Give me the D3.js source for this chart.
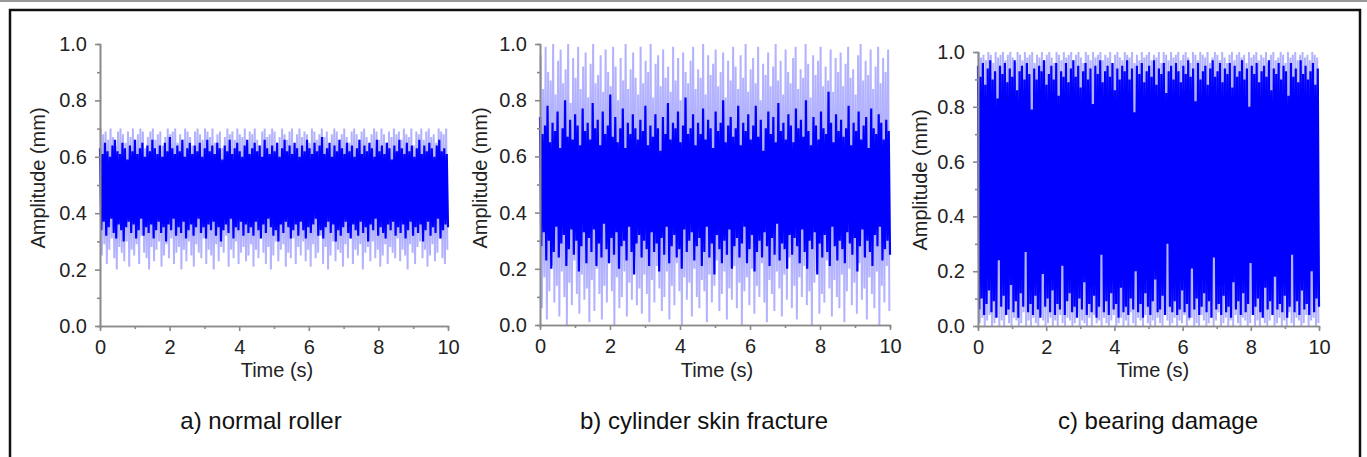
<!DOCTYPE html>
<meta charset="utf-8">
<style>
body { margin: 0; background: #fff; font-family: Arial, "Liberation Sans", sans-serif; }
.axis path,
.axis line { stroke: #8a8a8a; stroke-width: 1.6; fill: none; }
.axis text { font-size: 20px; fill: #222; font-family: Arial, "Liberation Sans", sans-serif; }
.title { font-size: 20px; fill: #222; }
.caption { font-size: 24px; fill: #111; }
</style>
<script src="https://d3js.org/d3.v7.min.js"></script>
<body>
<div id="chart"></div>
<script>
// tick values
var xTicks = [0, 2, 4, 6, 8, 10],
    xMinor = [1, 3, 5, 7, 9],
    yTicks = [0, 0.2, 0.4, 0.6, 0.8, 1.0],
    yMinor = [0.1, 0.3, 0.5, 0.7, 0.9];

var captions = ["a) normal roller", "b) cylinder skin fracture", "c) bearing damage"];

// amplitude samples (mm), evenly spread over 0-10 s
// *PeakHi / *PeakLo : outer spikes (light), *CoreHi / *CoreLo : edges of the dense band

// a) normal roller
var aPeakHi = [0.70,0.68,0.69,0.66,0.70,0.67,0.64,0.69,0.70,0.68,0.65,0.69,0.67,0.70,0.66,0.68,0.70,0.69,0.63,0.67,
  0.69,0.70,0.66,0.68,0.69,0.64,0.67,0.70,0.68,0.69,0.70,0.65,0.68,0.66,0.70,0.69,0.67,0.64,0.69,0.70,
  0.68,0.66,0.70,0.69,0.67,0.70,0.65,0.68,0.69,0.63,0.67,0.70,0.68,0.69,0.66,0.70,0.68,0.67,0.70,0.65,
  0.69,0.68,0.70,0.66,0.64,0.69,0.70,0.67,0.68,0.70,0.69,0.65,0.67,0.70,0.68,0.66,0.69,0.70,0.64,0.68,
  0.70,0.67,0.69,0.68,0.65,0.70,0.69,0.66,0.68,0.70,0.67,0.69,0.63,0.68,0.70,0.69,0.66,0.68,0.70,0.67,
  0.65,0.69,0.70,0.68,0.66,0.69,0.70,0.67,0.64,0.68,0.70,0.69,0.66,0.70,0.68,0.65,0.69,0.67,0.70,0.68,
  0.69,0.66,0.70,0.68,0.67,0.70,0.64,0.69,0.68,0.70,0.66,0.69,0.70,0.67,0.68,0.65,0.70,0.69,0.68,0.70];
var aPeakLo = [0.25,0.29,0.22,0.27,0.31,0.24,0.20,0.28,0.26,0.23,0.30,0.21,0.27,0.25,0.29,0.22,0.32,0.26,0.24,0.20,
  0.28,0.23,0.27,0.30,0.21,0.25,0.29,0.24,0.31,0.22,0.26,0.28,0.20,0.27,0.23,0.30,0.25,0.21,0.29,0.26,
  0.24,0.31,0.22,0.27,0.25,0.20,0.29,0.23,0.28,0.26,0.32,0.21,0.27,0.24,0.30,0.22,0.26,0.28,0.23,0.25,
  0.29,0.21,0.27,0.24,0.31,0.26,0.22,0.28,0.20,0.25,0.30,0.23,0.27,0.29,0.21,0.26,0.24,0.31,0.22,0.28,
  0.25,0.30,0.23,0.27,0.21,0.29,0.24,0.26,0.32,0.22,0.28,0.20,0.25,0.30,0.23,0.27,0.26,0.21,0.29,0.24,
  0.31,0.22,0.27,0.25,0.29,0.20,0.26,0.28,0.23,0.30,0.24,0.27,0.21,0.25,0.29,0.22,0.28,0.26,0.24,0.31,
  0.23,0.27,0.25,0.20,0.29,0.26,0.22,0.28,0.30,0.24,0.27,0.21,0.25,0.29,0.23,0.26,0.31,0.24,0.22,0.27];
var aCoreHi = [0.63,0.61,0.65,0.62,0.60,0.64,0.66,0.62,0.61,0.65,0.63,0.59,0.64,0.62,0.66,0.61,0.63,0.65,0.60,0.64,
  0.62,0.66,0.63,0.61,0.64,0.60,0.65,0.62,0.67,0.63,0.61,0.64,0.62,0.66,0.60,0.63,0.65,0.61,0.64,0.62,
  0.65,0.60,0.63,0.66,0.62,0.64,0.61,0.65,0.63,0.59,0.64,0.62,0.66,0.61,0.63,0.65,0.62,0.60,0.64,0.66,
  0.61,0.63,0.65,0.62,0.64,0.60,0.66,0.63,0.61,0.64,0.62,0.65,0.60,0.63,0.66,0.62,0.64,0.61,0.65,0.63,
  0.60,0.64,0.62,0.66,0.63,0.61,0.65,0.62,0.64,0.67,0.61,0.63,0.65,0.60,0.64,0.62,0.66,0.63,0.61,0.65,
  0.62,0.64,0.60,0.63,0.66,0.61,0.64,0.62,0.65,0.63,0.60,0.66,0.62,0.64,0.61,0.65,0.63,0.59,0.64,0.62,
  0.66,0.63,0.61,0.65,0.62,0.64,0.60,0.63,0.66,0.61,0.64,0.62,0.65,0.63,0.60,0.64,0.66,0.62,0.63,0.61];
var aCoreLo = [0.34,0.37,0.32,0.35,0.38,0.33,0.31,0.36,0.34,0.30,0.35,0.37,0.33,0.36,0.31,0.34,0.38,0.32,0.35,0.33,
  0.36,0.31,0.34,0.37,0.33,0.35,0.30,0.36,0.34,0.38,0.32,0.35,0.33,0.37,0.31,0.34,0.36,0.32,0.35,0.38,
  0.33,0.35,0.31,0.36,0.34,0.37,0.32,0.35,0.30,0.34,0.36,0.33,0.38,0.31,0.35,0.34,0.37,0.32,0.36,0.33,
  0.35,0.32,0.37,0.34,0.31,0.36,0.33,0.38,0.35,0.32,0.34,0.30,0.36,0.33,0.37,0.35,0.31,0.34,0.36,0.32,
  0.37,0.34,0.31,0.35,0.33,0.36,0.38,0.32,0.34,0.31,0.35,0.37,0.33,0.36,0.30,0.34,0.32,0.35,0.37,0.33,
  0.31,0.36,0.34,0.32,0.37,0.33,0.35,0.30,0.36,0.34,0.38,0.32,0.35,0.33,0.31,0.36,0.34,0.37,0.32,0.35,
  0.33,0.36,0.31,0.34,0.37,0.32,0.35,0.33,0.36,0.30,0.34,0.37,0.32,0.35,0.33,0.38,0.31,0.34,0.36,0.35];

// b) cylinder skin fracture
var bPeakHi = [0.96,0.84,0.99,0.90,0.87,1.00,0.82,0.94,0.98,0.86,0.91,1.00,0.79,0.95,0.88,0.99,0.84,0.92,0.97,0.81,
  0.93,1.00,0.86,0.89,0.96,0.83,0.98,0.90,0.85,0.99,0.92,0.80,0.95,0.87,1.00,0.84,0.91,0.97,0.88,0.82,
  0.99,0.86,0.94,0.90,1.00,0.81,0.93,0.96,0.85,0.98,0.88,0.92,0.83,0.99,0.87,0.95,0.80,0.97,0.90,0.86,
  0.94,0.99,0.84,0.91,0.88,1.00,0.82,0.96,0.89,0.93,0.98,0.85,0.90,0.97,0.81,0.94,0.87,0.99,0.92,0.84,
  0.96,0.88,1.00,0.83,0.91,0.95,0.86,0.99,0.80,0.93,0.89,0.97,0.85,0.92,1.00,0.87,0.94,0.82,0.98,0.90,
  0.86,0.95,0.99,0.84,0.91,0.88,1.00,0.93,0.81,0.96,0.89,0.94,0.99,0.85,0.92,0.87,0.98,0.83,0.95,0.90,
  0.97,0.85,0.93,0.99,0.88,0.91,0.82,0.96,1.00,0.87,0.94,0.89,0.98,0.84,0.92,0.99,0.86,0.95,0.90,0.98];
var bPeakLo = [0.06,0.17,0.02,0.12,0.21,0.08,0.14,0.03,0.19,0.10,0.00,0.15,0.07,0.23,0.11,0.04,0.18,0.09,0.13,0.01,
  0.16,0.05,0.20,0.11,0.02,0.14,0.08,0.22,0.12,0.00,0.17,0.06,0.10,0.19,0.03,0.15,0.09,0.24,0.07,0.13,
  0.04,0.18,0.11,0.01,0.16,0.08,0.21,0.13,0.05,0.10,0.19,0.02,0.14,0.07,0.22,0.12,0.00,0.17,0.09,0.15,
  0.03,0.20,0.10,0.06,0.16,0.12,0.01,0.18,0.08,0.14,0.23,0.05,0.11,0.19,0.02,0.13,0.09,0.21,0.06,0.15,
  0.00,0.12,0.17,0.07,0.20,0.04,0.14,0.10,0.22,0.08,0.01,0.16,0.11,0.05,0.19,0.13,0.03,0.18,0.09,0.24,
  0.06,0.14,0.02,0.17,0.10,0.21,0.07,0.12,0.00,0.15,0.19,0.04,0.11,0.08,0.23,0.13,0.03,0.16,0.10,0.06,
  0.18,0.01,0.12,0.20,0.07,0.15,0.04,0.22,0.09,0.13,0.02,0.17,0.11,0.06,0.19,0.00,0.14,0.08,0.21,0.05];
var bCoreHi = [0.74,0.68,0.71,0.78,0.65,0.72,0.69,0.76,0.63,0.70,0.80,0.67,0.73,0.66,0.75,0.71,0.64,0.77,0.69,0.72,
  0.66,0.79,0.70,0.73,0.64,0.76,0.68,0.71,0.82,0.67,0.74,0.65,0.70,0.77,0.63,0.72,0.68,0.75,0.70,0.66,
  0.73,0.69,0.78,0.64,0.71,0.67,0.75,0.70,0.62,0.74,0.68,0.79,0.66,0.72,0.70,0.76,0.65,0.71,0.81,0.68,
  0.70,0.75,0.64,0.72,0.68,0.77,0.66,0.73,0.70,0.63,0.76,0.69,0.72,0.80,0.65,0.71,0.74,0.67,0.70,0.78,
  0.64,0.72,0.69,0.75,0.66,0.71,0.78,0.67,0.73,0.62,0.70,0.76,0.68,0.74,0.65,0.79,0.69,0.72,0.66,0.75,
  0.71,0.65,0.77,0.70,0.73,0.67,0.80,0.69,0.64,0.74,0.71,0.66,0.76,0.70,0.68,0.83,0.72,0.65,0.75,0.69,
  0.73,0.67,0.70,0.78,0.64,0.72,0.69,0.76,0.66,0.71,0.74,0.63,0.77,0.70,0.68,0.75,0.72,0.66,0.73,0.69];
var bCoreLo = [0.28,0.33,0.23,0.30,0.20,0.26,0.35,0.24,0.29,0.32,0.21,0.27,0.34,0.25,0.30,0.19,0.28,0.33,0.22,0.31,
  0.26,0.34,0.21,0.29,0.24,0.36,0.27,0.22,0.31,0.25,0.33,0.20,0.28,0.30,0.23,0.35,0.26,0.18,0.29,0.32,
  0.24,0.30,0.27,0.21,0.33,0.26,0.29,0.19,0.31,0.25,0.35,0.22,0.28,0.32,0.24,0.27,0.20,0.34,0.26,0.30,
  0.33,0.23,0.28,0.31,0.21,0.26,0.35,0.24,0.29,0.18,0.32,0.27,0.22,0.30,0.25,0.34,0.20,0.28,0.31,0.24,
  0.29,0.35,0.22,0.27,0.32,0.19,0.26,0.30,0.24,0.33,0.28,0.21,0.31,0.25,0.36,0.23,0.29,0.27,0.20,0.32,
  0.25,0.31,0.28,0.22,0.34,0.26,0.20,0.30,0.27,0.33,0.18,0.29,0.24,0.32,0.26,0.21,0.35,0.28,0.23,0.30,
  0.27,0.22,0.33,0.29,0.25,0.31,0.19,0.28,0.34,0.24,0.30,0.26,0.21,0.32,0.28,0.35,0.23,0.27,0.30,0.25];

// c) bearing damage
var cPeakHi = [1.00,0.98,0.99,0.97,1.00,0.99,0.96,1.00,0.98,0.99,1.00,0.97,0.99,1.00,0.98,0.96,1.00,0.99,0.97,1.00,
  0.98,0.99,1.00,0.96,0.99,0.98,1.00,0.97,0.99,1.00,0.98,0.96,1.00,0.99,0.97,1.00,0.98,0.99,1.00,0.97,
  0.99,1.00,0.98,0.96,1.00,0.99,0.97,1.00,0.98,0.99,1.00,0.97,0.99,0.98,1.00,0.96,0.99,1.00,0.98,0.97,
  1.00,0.99,0.98,1.00,0.96,0.99,0.97,1.00,0.98,0.99,1.00,0.97,0.99,0.98,1.00,0.96,1.00,0.99,0.97,1.00,
  0.98,0.99,1.00,0.97,0.99,1.00,0.98,0.96,1.00,0.99,0.97,1.00,0.99,0.98,1.00,0.96,0.98,1.00,0.99,0.97,
  1.00,0.98,0.96,0.99,1.00,0.97,0.99,1.00,0.98,0.99,0.96,1.00,0.98,0.99,1.00,0.97,0.99,0.98,1.00,0.96,
  0.99,1.00,0.97,0.98,1.00,0.99,0.96,1.00,0.98,0.99,1.00,0.97,0.99,1.00,0.98,0.99,0.97,1.00,0.99,0.98];
var cPeakLo = [0.01,0.03,0.00,0.02,0.04,0.00,0.01,0.03,0.00,0.02,0.00,0.04,0.01,0.00,0.03,0.02,0.00,0.01,0.05,0.00,
  0.02,0.00,0.03,0.01,0.00,0.04,0.02,0.00,0.01,0.03,0.00,0.02,0.00,0.04,0.01,0.00,0.03,0.02,0.00,0.01,
  0.05,0.00,0.02,0.01,0.00,0.03,0.00,0.04,0.01,0.02,0.00,0.03,0.01,0.00,0.02,0.04,0.00,0.01,0.03,0.00,
  0.02,0.00,0.05,0.01,0.00,0.03,0.02,0.00,0.04,0.01,0.00,0.02,0.00,0.03,0.01,0.00,0.04,0.02,0.00,0.01,
  0.03,0.00,0.02,0.01,0.04,0.00,0.02,0.03,0.00,0.01,0.00,0.04,0.02,0.00,0.01,0.03,0.00,0.02,0.05,0.00,
  0.01,0.03,0.00,0.02,0.00,0.04,0.01,0.00,0.03,0.02,0.00,0.01,0.04,0.00,0.02,0.00,0.03,0.01,0.00,0.02,
  0.04,0.00,0.01,0.03,0.00,0.02,0.00,0.05,0.01,0.00,0.03,0.02,0.00,0.01,0.04,0.00,0.02,0.03,0.00,0.01];
var cCoreHi = [0.95,0.91,0.96,0.88,0.94,0.97,0.90,0.93,0.83,0.95,0.92,0.96,0.89,0.94,0.91,0.97,0.86,0.93,0.95,0.90,
  0.96,0.92,0.79,0.94,0.90,0.95,0.93,0.97,0.88,0.92,0.95,0.90,0.96,0.84,0.93,0.91,0.96,0.89,0.94,0.97,
  0.91,0.95,0.87,0.93,0.96,0.90,0.94,0.81,0.95,0.92,0.97,0.89,0.93,0.95,0.91,0.96,0.86,0.94,0.90,0.95,
  0.93,0.97,0.90,0.94,0.78,0.95,0.92,0.96,0.89,0.93,0.95,0.91,0.97,0.88,0.94,0.92,0.96,0.85,0.93,0.95,
  0.90,0.96,0.93,0.89,0.95,0.92,0.97,0.91,0.94,0.82,0.96,0.90,0.93,0.95,0.88,0.94,0.97,0.91,0.93,0.96,
  0.89,0.94,0.92,0.96,0.87,0.95,0.91,0.93,0.97,0.90,0.94,0.80,0.95,0.92,0.96,0.89,0.93,0.95,0.91,0.97,
  0.86,0.94,0.92,0.96,0.90,0.95,0.93,0.84,0.96,0.91,0.94,0.89,0.97,0.92,0.95,0.90,0.93,0.96,0.88,0.94];
var cCoreLo = [0.06,0.10,0.04,0.08,0.13,0.05,0.09,0.03,0.24,0.07,0.11,0.04,0.06,0.15,0.05,0.09,0.03,0.12,0.07,0.27,
  0.05,0.08,0.04,0.11,0.06,0.03,0.19,0.07,0.10,0.05,0.13,0.04,0.08,0.06,0.22,0.04,0.09,0.12,0.05,0.07,
  0.03,0.10,0.06,0.16,0.04,0.08,0.05,0.11,0.03,0.07,0.26,0.05,0.09,0.04,0.12,0.06,0.08,0.03,0.14,0.05,
  0.07,0.04,0.10,0.06,0.20,0.05,0.08,0.03,0.12,0.07,0.04,0.09,0.17,0.05,0.06,0.11,0.04,0.30,0.07,0.05,
  0.09,0.04,0.06,0.13,0.05,0.08,0.03,0.21,0.06,0.10,0.04,0.07,0.12,0.05,0.09,0.03,0.25,0.06,0.08,0.04,
  0.11,0.05,0.07,0.03,0.16,0.06,0.09,0.04,0.12,0.05,0.08,0.23,0.04,0.07,0.10,0.05,0.03,0.14,0.06,0.09,
  0.04,0.18,0.06,0.08,0.05,0.11,0.03,0.07,0.26,0.05,0.09,0.04,0.13,0.06,0.08,0.04,0.20,0.05,0.10,0.07];

// panel placement (plot box in page pixels)
var panels = [
  {left: 100, right: 448, top: 44, bottom: 326, ylabX: 38, ylabY: 178, xlabX: 277, capX: 261,
   peakHi: aPeakHi, peakLo: aPeakLo, coreHi: aCoreHi, coreLo: aCoreLo},
  {left: 540, right: 890, top: 44, bottom: 325, ylabX: 480, ylabY: 178, xlabX: 717, capX: 704,
   peakHi: bPeakHi, peakLo: bPeakLo, coreHi: bCoreHi, coreLo: bCoreLo},
  {left: 978, right: 1319, top: 52, bottom: 326, ylabX: 920, ylabY: 180, xlabX: 1153, capX: 1158,
   peakHi: cPeakHi, peakLo: cPeakLo, coreHi: cCoreHi, coreLo: cCoreLo}
];

var svg = d3.select("#chart")
  .append("svg")
    .attr("width", 1367)
    .attr("height", 457);

// outer frame
svg.append("line")
  .attr("x1", 0).attr("x2", 1367).attr("y1", 1).attr("y2", 1)
  .attr("stroke", "#777").attr("stroke-width", 1.5);
svg.append("rect")
  .attr("x", 10).attr("y", 10).attr("width", 1350).attr("height", 470)
  .attr("fill", "none").attr("stroke", "#111").attr("stroke-width", 2.5);

// interleave high / low samples into one zigzag signal
function zigzag(hi, lo) {
  var pts = [];
  hi.forEach(function(v, i) { pts.push(v, lo[i]); });
  return pts;
}

panels.forEach(function(p, k) {
  var x = d3.scaleLinear().domain([0, 10]).range([p.left, p.right]);
  var y = d3.scaleLinear().domain([0, 1]).range([p.bottom, p.top]);
  var g = svg.append("g");

  var peaks = zigzag(p.peakHi, p.peakLo),
      core = zigzag(p.coreHi, p.coreLo);

  // light outer spikes
  g.append("path")
    .datum(peaks)
    .attr("fill", "none")
    .attr("stroke", "#0000ff")
    .attr("stroke-opacity", 0.3)
    .attr("stroke-width", 2)
    .attr("stroke-linejoin", "bevel")
    .attr("d", d3.line()
      .x(function(d, i) { return x((i + 0.5) * 10 / peaks.length); })
      .y(function(d) { return y(d); }));

  // dense band
  g.append("path")
    .datum(core)
    .attr("fill", "none")
    .attr("stroke", "#0000ff")
    .attr("stroke-width", 2.2)
    .attr("stroke-linejoin", "bevel")
    .attr("d", d3.line()
      .x(function(d, i) { return x(i * 10 / (core.length - 1)); })
      .y(function(d) { return y(d); }));

  // axes
  g.append("g").attr("class", "axis")
    .attr("transform", "translate(" + p.left + ",0)")
    .call(d3.axisLeft(y).tickValues(yMinor).tickSize(3).tickFormat(""));
  g.append("g").attr("class", "axis")
    .attr("transform", "translate(" + p.left + ",0)")
    .call(d3.axisLeft(y).tickValues(yTicks).tickSize(5).tickSizeOuter(0)
      .tickPadding(8).tickFormat(d3.format(".1f")));

  g.append("g").attr("class", "axis")
    .attr("transform", "translate(0," + p.bottom + ")")
    .call(d3.axisBottom(x).tickValues(xMinor).tickSize(3).tickFormat(""));
  g.append("g").attr("class", "axis")
    .attr("transform", "translate(0," + p.bottom + ")")
    .call(d3.axisBottom(x).tickValues(xTicks).tickSize(5).tickSizeOuter(0)
      .tickPadding(9).tickFormat(d3.format("d")));

  // axis titles
  g.append("text")
    .attr("class", "title")
    .attr("transform", "translate(" + (p.ylabX + 7) + "," + p.ylabY + ")rotate(-90)")
    .style("text-anchor", "middle")
    .text("Amplitude (mm)");
  g.append("text")
    .attr("class", "title")
    .attr("x", p.xlabX)
    .attr("y", 377)
    .style("text-anchor", "middle")
    .text("Time (s)");

  // caption
  g.append("text")
    .attr("class", "caption")
    .attr("x", p.capX)
    .attr("y", 429)
    .style("text-anchor", "middle")
    .text(captions[k]);
});
</script>
